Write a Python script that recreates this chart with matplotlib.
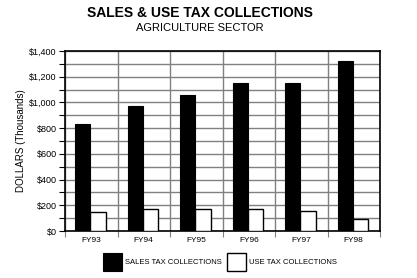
import numpy as np
import matplotlib
matplotlib.use("Agg")
import matplotlib.pyplot as plt
from matplotlib.ticker import MultipleLocator, FuncFormatter

plt.rcParams['font.family'] = ['Liberation Sans', 'DejaVu Sans']

# data (thousands of dollars)
years = ["FY93", "FY94", "FY95", "FY96", "FY97", "FY98"]
sales_tax = [835, 975, 1055, 1150, 1150, 1323]
use_tax = [145, 168, 168, 168, 153, 91]

fig = plt.figure(figsize=(4.17, 2.78), dpi=100)
ax = fig.add_axes([65/417, 47/278, 315/417, 180/278])

x = np.arange(len(years))
w = 0.29
b1 = ax.bar(x - w/2 - 0.015, sales_tax, w, color="black", edgecolor="black",
            linewidth=0.8, label="SALES TAX COLLECTIONS", zorder=3)
b2 = ax.bar(x + w/2 - 0.015, use_tax, w, color="white", edgecolor="black",
            linewidth=1.0, label="USE TAX COLLECTIONS", zorder=3)

ax.set_xlim(-0.5, len(years) - 0.5)
ax.set_ylim(0, 1400)
ax.yaxis.set_major_locator(MultipleLocator(200))
ax.yaxis.set_minor_locator(MultipleLocator(100))
ax.yaxis.set_major_formatter(FuncFormatter(lambda v, p: "${:,.0f}".format(v)))
ax.grid(axis="y", which="both", color="#808080", linewidth=1.0, zorder=1)

# category separators
ax.set_xticks(x)
ax.set_xticklabels(years)
ax.set_xticks(np.arange(len(years) + 1) - 0.5, minor=True)
ax.grid(axis="x", which="minor", color="#808080", linewidth=1.0, zorder=1)
ax.tick_params(axis="x", which="major", length=0, labelsize=6, pad=4)
ax.tick_params(axis="x", which="minor", length=4, width=0.8, color="#808080")
ax.tick_params(axis="y", which="both", length=4, width=0.8, labelsize=6.5, pad=2)

for s in ax.spines.values():
    s.set_color("black")
    s.set_linewidth(1.2)

ax.set_ylabel("DOLLARS (Thousands)", fontsize=7, labelpad=2)

fig.text(200/417, 1 - 13/278, "SALES & USE TAX COLLECTIONS", ha="center",
         va="center", fontsize=10, fontweight="bold")
fig.text(200/417, 1 - 28/278, "AGRICULTURE SECTOR", ha="center",
         va="center", fontsize=8)

fig.legend(handles=[b1, b2], loc="center", bbox_to_anchor=(220/417, 1 - 262/278),
           ncol=2, frameon=False, fontsize=5.5, handlelength=2.5,
           handleheight=3.1, handletextpad=0.4, columnspacing=0.6)

fig.savefig("out.png", dpi=100)
